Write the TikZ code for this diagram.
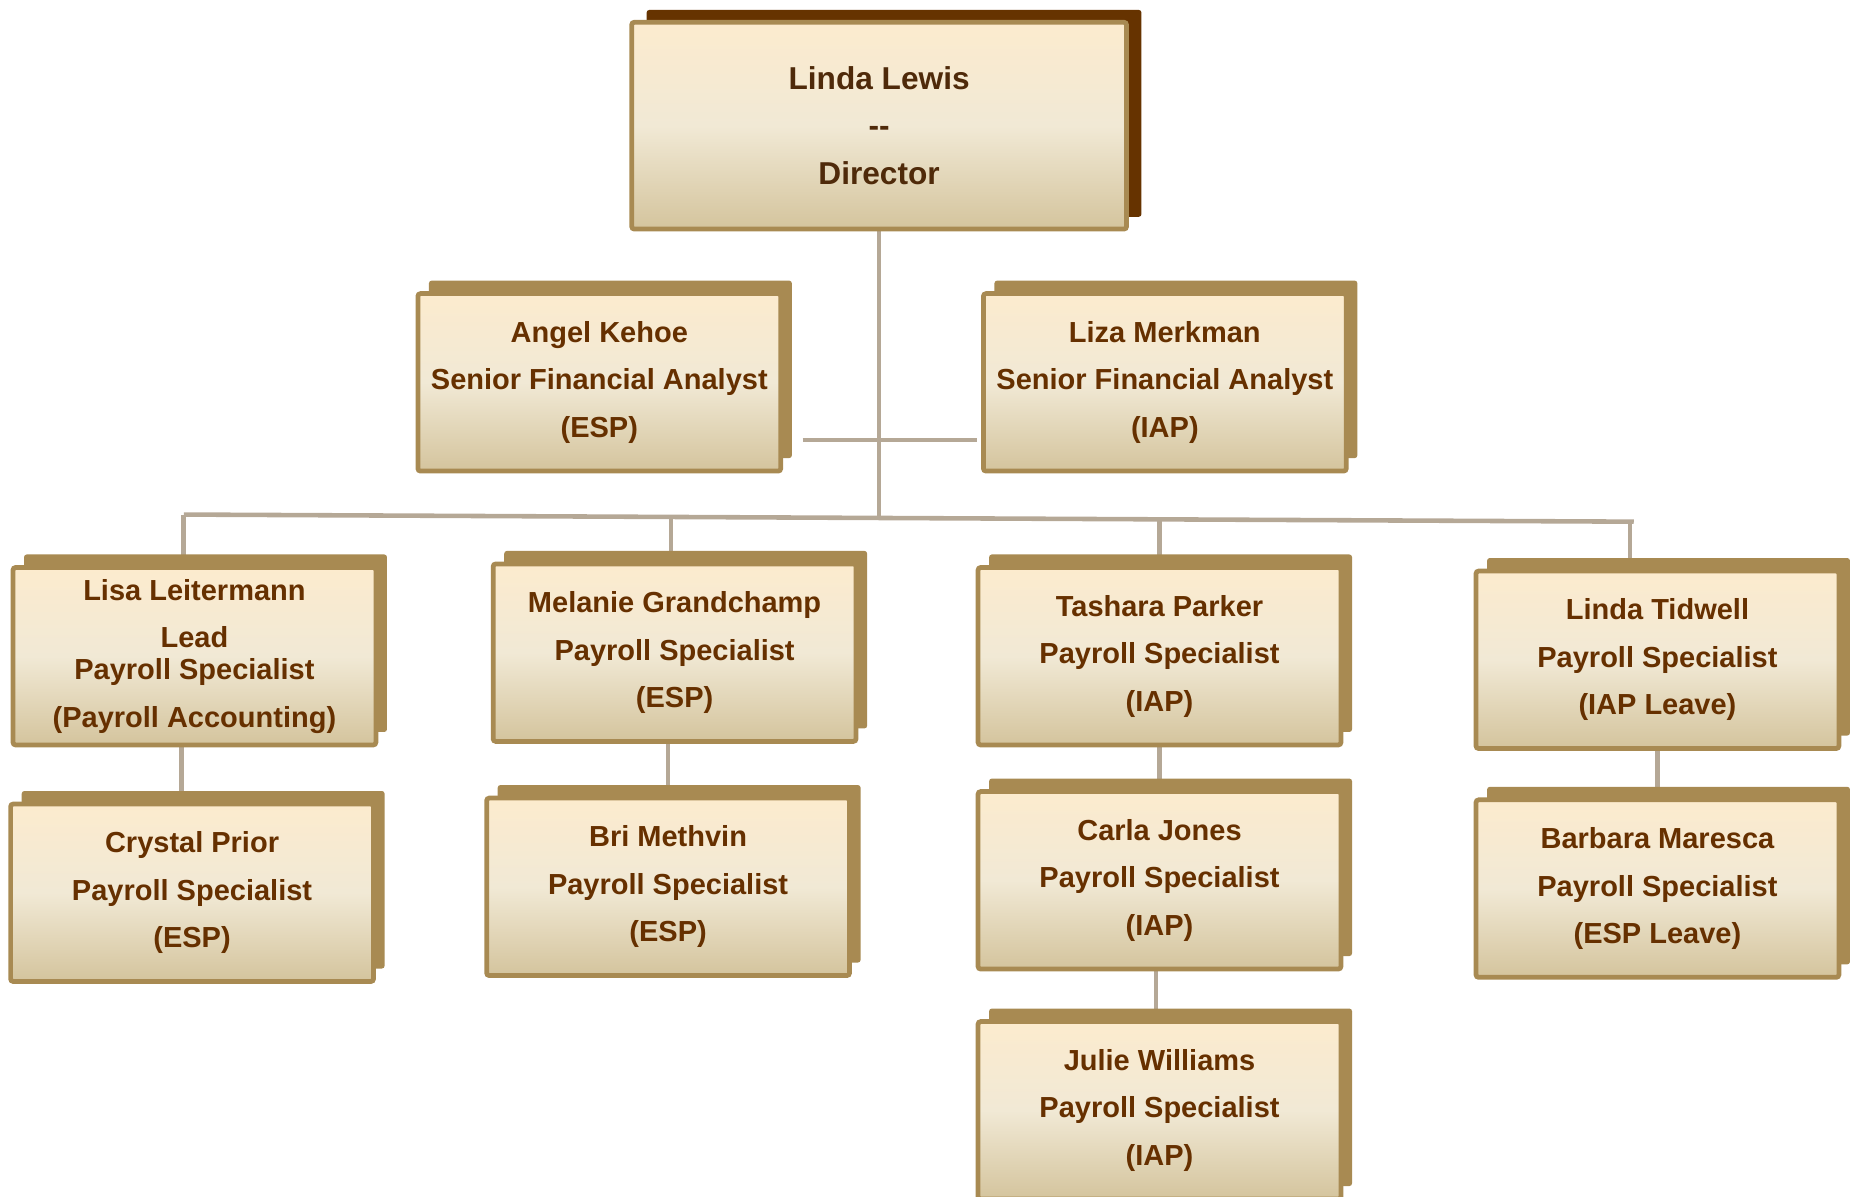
\documentclass[tikz,border=0pt]{standalone}
\usepackage{fontspec}
\setmainfont{Liberation Sans}
\usepackage{tikz}
\usetikzlibrary{shadows}
\usetikzlibrary{backgrounds}
\definecolor{CreamTop}{HTML}{FCEBCE}
\definecolor{CreamMid}{HTML}{F1E9D5}
\definecolor{CreamLow}{HTML}{D4C49D}
\definecolor{Tan}{HTML}{A88A52}
\definecolor{DarkBrown}{HTML}{663300}
\definecolor{TextBrown}{HTML}{663000}
\definecolor{HeadBrown}{HTML}{4F2A0A}
\definecolor{Wire}{HTML}{B5A896}

\begin{document}
\begin{tikzpicture}[x=0.023712cm, y=-0.023712cm,
	card/.style={draw=Tan, line width=2.7pt, rounded corners=1.5pt,
		top color=CreamTop, bottom color=CreamLow, middle color=CreamMid,
		align=center, font=\bfseries\fontsize{16.5}{27}\selectfont},
	staff/.style={card, text=TextBrown, minimum width=206.5pt, minimum height=101pt,
		general shadow={fill=Tan, shadow xshift=6.3pt, shadow yshift=7.4pt}},
	head/.style={card, text=HeadBrown, minimum width=281.6pt, minimum height=117.7pt,
		font=\bfseries\fontsize{18}{27.3}\selectfont,
		general shadow={fill=DarkBrown, shadow xshift=8.5pt, shadow yshift=7pt}},
	wire/.style={draw=Wire, line width=2.6pt}]
			\useasboundingbox (0,0) rectangle (1568,1009);
			% top
			\node[head] (lewis) at (741.5,106) {Linda Lewis\\-{}-\\Director};
			\node[staff] (kehoe) at (505.5,322.5) {Angel Kehoe\\Senior Financial Analyst\\(ESP)};
			\node[staff] (merkman) at (982.5,322.5) {Liza Merkman\\Senior Financial Analyst\\(IAP)};
			% first row
			\node[staff] (leitermann) at (164,553.5) {Lisa Leitermann\\Lead\\[-8.8pt]Payroll Specialist\\(Payroll Accounting)};
			\node[staff] (grandchamp) at (569,550.5) {Melanie Grandchamp\\Payroll Specialist\\(ESP)};
			\node[staff] (parker) at (978,553.5) {Tashara Parker\\Payroll Specialist\\(IAP)};
			\node[staff] (tidwell) at (1398,556.5) {Linda Tidwell\\Payroll Specialist\\(IAP Leave)};
			% second row
			\node[staff] (prior) at (162,753) {Crystal Prior\\Payroll Specialist\\(ESP)};
			\node[staff] (methvin) at (563.5,748) {Bri Methvin\\Payroll Specialist\\(ESP)};
			\node[staff] (jones) at (978,742.5) {Carla Jones\\Payroll Specialist\\(IAP)};
			\node[staff] (maresca) at (1398,749.5) {Barbara Maresca\\Payroll Specialist\\(ESP Leave)};
			\node[staff] (williams) at (978,936.5) {Julie Williams\\Payroll Specialist\\(IAP)};
			% lines
			\coordinate (busL) at (155,434);
			\coordinate (busB) at (566,436);
			\coordinate (busC) at (978,438);
			\coordinate (busD) at (1375,440);
			\coordinate (busR) at (1378,440);
			\coordinate (asstL) at (677,371);
			\coordinate (asstR) at (824,371);
			\begin{scope}[on background layer]
				\draw[wire] (lewis.south) -- (lewis.south |- busB);
				\draw[wire] (asstL) -- (asstR);
				\draw[wire] (busL) -- (busR);
				\draw[wire] (busL) -- (busL |- leitermann.north);
				\draw[wire] (busB) -- (busB |- grandchamp.north);
				\draw[wire] (busC) -- (parker.north);
				\draw[wire] (busD) -- (busD |- tidwell.north);
				\draw[wire] ([xshift=-6pt]prior.north |- leitermann.south) -- ([xshift=-6pt]prior.north);
				\draw[wire] (methvin.north |- grandchamp.south) -- (methvin.north);
				\draw[wire] (parker.south) -- (jones.north);
				\draw[wire] ([xshift=-2pt]jones.south) -- ([xshift=-2pt]williams.north);
				\draw[wire] (tidwell.south) -- (maresca.north);
			\end{scope}
		\end{tikzpicture}
\end{document}
